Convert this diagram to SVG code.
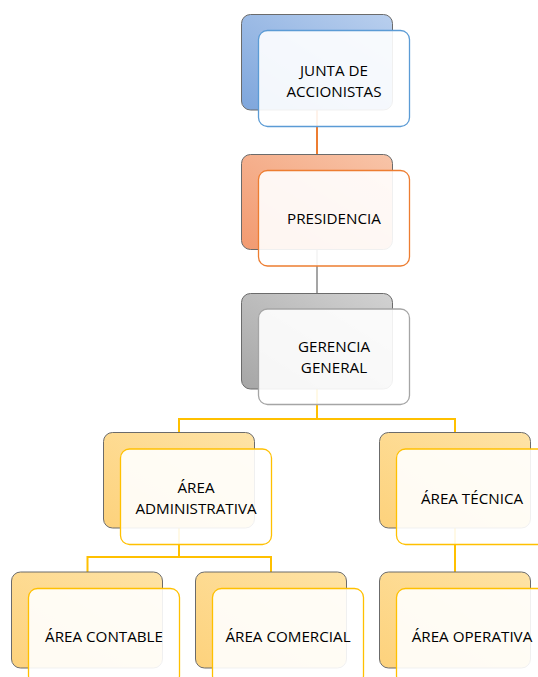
<svg xmlns="http://www.w3.org/2000/svg" width="538" height="677" viewBox="0 0 538 677">
  <defs>
    <linearGradient id="gBlue" x1="0" y1="1" x2="1" y2="0">
      <stop offset="0" stop-color="#7ea6dc"/>
      <stop offset="1" stop-color="#b9cfee"/>
    </linearGradient>
    <linearGradient id="gOrange" x1="0" y1="1" x2="1" y2="0">
      <stop offset="0" stop-color="#f29a70"/>
      <stop offset="1" stop-color="#f8c4a8"/>
    </linearGradient>
    <linearGradient id="gGray" x1="0" y1="1" x2="1" y2="0">
      <stop offset="0" stop-color="#a6a6a6"/>
      <stop offset="1" stop-color="#d2d2d2"/>
    </linearGradient>
    <linearGradient id="gGold" x1="0" y1="1" x2="1" y2="0">
      <stop offset="0" stop-color="#fdd27c"/>
      <stop offset="1" stop-color="#fee3a6"/>
    </linearGradient>
    <style>
      .back { stroke: #6b6b6b; stroke-width: 1; }
      .front { fill: #ffffff; fill-opacity: 0.9; stroke-width: 1.3; }
      .blue .back { fill: url(#gBlue); }
      .blue .front { stroke: #5b9bd5; }
      .orange .back { fill: url(#gOrange); }
      .orange .front { stroke: #ed7d31; }
      .gray .back { fill: url(#gGray); }
      .gray .front { stroke: #a5a5a5; }
      .gold .back { fill: url(#gGold); }
      .gold .front { stroke: #ffc000; }
      .lbl { font-family: "Open Sans", "Liberation Sans", sans-serif; font-size: 15.2px; fill: #000000; text-anchor: middle; }
      .conn { fill: none; stroke-width: 2; }
    </style>
  </defs>

  <!-- connectors (drawn beneath the boxes, between back-box centres) -->
  <g id="connectors">
    <path class="conn" stroke="#ed7d31" d="M317,110 V155"/>
    <path class="conn" stroke="#a5a5a5" d="M317,249 V294"/>
    <path class="conn" stroke="#ffc000" d="M317,389 V419 M179,433 V419 H455 V433"/>
    <path class="conn" stroke="#ffc000" d="M179,528 V557 M87.5,572 V557 H271 V572"/>
    <path class="conn" stroke="#ffc000" d="M455,528 V572"/>
  </g>

  <g id="junta" class="blue">
    <rect class="back" x="241.5" y="14.5" width="151" height="95.5" rx="9"/>
    <rect class="front" x="258.5" y="30.5" width="151" height="96" rx="9"/>
    <text class="lbl" x="334" y="75.5">JUNTA DE</text>
    <text class="lbl" x="334" y="96.5">ACCIONISTAS</text>
  </g>

  <g id="presidencia" class="orange">
    <rect class="back" x="241.5" y="154.5" width="151" height="95" rx="9"/>
    <rect class="front" x="258.5" y="170.5" width="151" height="95.5" rx="9"/>
    <text class="lbl" x="334" y="223.5">PRESIDENCIA</text>
  </g>

  <g id="gerencia" class="gray">
    <rect class="back" x="241.5" y="293.5" width="151" height="95.5" rx="9"/>
    <rect class="front" x="258.5" y="309" width="151" height="95.5" rx="9"/>
    <text class="lbl" x="334" y="351.5">GERENCIA</text>
    <text class="lbl" x="334" y="372.5">GENERAL</text>
  </g>

  <g id="area-administrativa" class="gold">
    <rect class="back" x="103.5" y="432.5" width="151" height="95.5" rx="9"/>
    <rect class="front" x="120.5" y="449" width="151" height="95.5" rx="9"/>
    <text class="lbl" x="196" y="493">ÁREA</text>
    <text class="lbl" x="196" y="514">ADMINISTRATIVA</text>
  </g>

  <g id="area-tecnica" class="gold">
    <rect class="back" x="379.5" y="432.5" width="151" height="95.5" rx="9"/>
    <rect class="front" x="396.5" y="449" width="151" height="95.5" rx="9"/>
    <text class="lbl" x="472" y="503.5">ÁREA TÉCNICA</text>
  </g>

  <g id="area-contable" class="gold">
    <rect class="back" x="11.5" y="572" width="151" height="96" rx="9"/>
    <rect class="front" x="28.5" y="588.5" width="151" height="96" rx="9"/>
    <text class="lbl" x="104" y="641.5">ÁREA CONTABLE</text>
  </g>

  <g id="area-comercial" class="gold">
    <rect class="back" x="195.5" y="572" width="151" height="96" rx="9"/>
    <rect class="front" x="212.5" y="588.5" width="151" height="96" rx="9"/>
    <text class="lbl" x="288" y="641.5">ÁREA COMERCIAL</text>
  </g>

  <g id="area-operativa" class="gold">
    <rect class="back" x="379.5" y="572" width="151" height="96" rx="9"/>
    <rect class="front" x="396.5" y="588.5" width="151" height="96" rx="9"/>
    <text class="lbl" x="472" y="641.5">ÁREA OPERATIVA</text>
  </g>
</svg>
